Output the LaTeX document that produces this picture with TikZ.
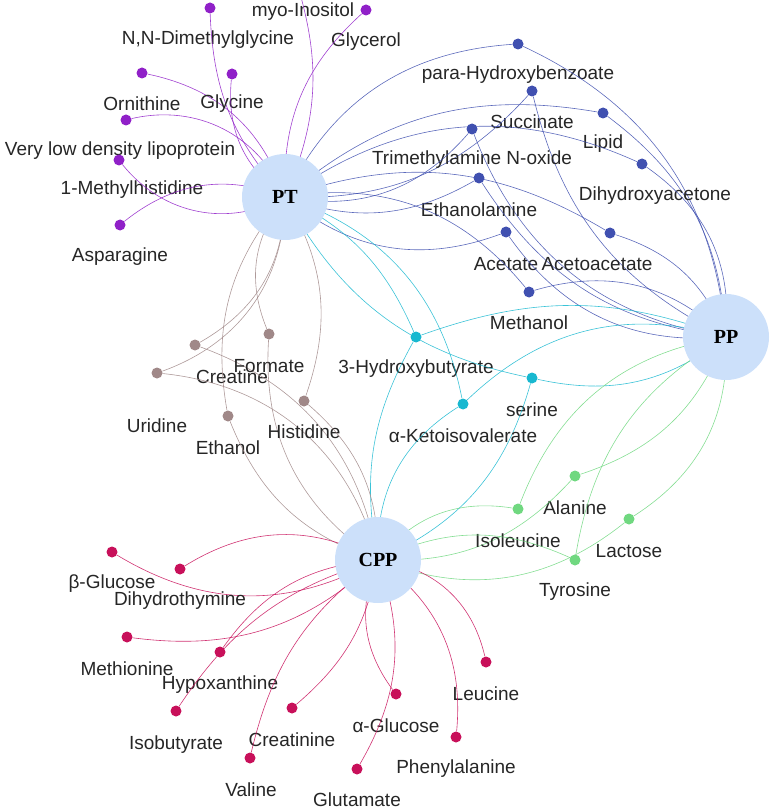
\documentclass[tikz,border=0pt]{standalone}
\usepackage{fontspec}
\setmainfont{Liberation Sans}
\newfontfamily\hubfont{Liberation Serif}
\definecolor{cpur}{HTML}{9020C8}
\definecolor{cblu}{HTML}{4050B0}
\definecolor{ccya}{HTML}{18B8D0}
\definecolor{cbro}{HTML}{A08888}
\definecolor{cgre}{HTML}{70D880}
\definecolor{cred}{HTML}{C8105A}
\definecolor{hubc}{HTML}{CCE0FA}
\tikzset{
 hub/.style={circle,fill=hubc,minimum size=86pt,inner sep=0pt,font=\hubfont\bfseries\fontsize{20}{22}\selectfont},
 dot/.style={circle,fill=#1,minimum size=11pt,inner sep=0pt},
 lab/.style={font=\fontsize{19}{21}\selectfont,text=black!85,inner sep=0pt},
 edge/.style={#1,line width=0.6pt,opacity=0.85}
}
\begin{document}
\begin{tikzpicture}[x=1pt,y=-1pt]
\useasboundingbox (0,0) rectangle (770,810);
\coordinate (PT) at (285,197);
\coordinate (PP) at (726,337);
\coordinate (CPP) at (378,560);
% purple
\foreach \n/\x/\y/\lx/\ly/\t/\b in {
 p1/210/8/208/40/{N,N-Dimethylglycine}/20,
 p0/296/-20/303/12/{myo-Inositol}/-20,
 p2/366/10/366/42/{Glycerol}/25,
 p3/142/73/142/104/{Ornithine}/-30,
 p4/232/74/232/104/{Glycine}/30,
 p5/126/120/120/151/{Very low density lipoprotein}/-40,
 p6/119/160/132/190/{1-Methylhistidine}/40,
 p7/120/225/120/257/{Asparagine}/-30}{
 \node[dot=cpur] (\n) at (\x,\y) {};
 \node[lab] (l\n) at (\lx,\ly) {\t};
 \draw[edge=cpur] (PT) to[bend left=\b] (\n);
}
% blue
\foreach \n/\x/\y/\lx/\ly/\t/\b in {
 b1/518/44/518/75/{para-Hydroxybenzoate}/30,
 b2/532/91/532/122/{Succinate}/-25,
 b3/603/113/603/144/{Lipid}/25,
 b4/472/129/472/160/{Trimethylamine N-oxide}/-30,
 b5/642/164/655/196/{Dihydroxyacetone}/30,
 b6/479/178/479/210/{Ethanolamine}/-25,
 b7/610/233/597/264/{Acetoacetate}/25,
 b8/506/232/506/264/{Acetate}/-30,
 b9/529/292/529/323/{Methanol}/30}{
 \node[dot=cblu] (\n) at (\x,\y) {};
 \node[lab] (l\n) at (\lx,\ly) {\t};
 \draw[edge=cblu] (PT) to[bend left=\b] (\n);
 \draw[edge=cblu] (PP) to[bend right=\b] (\n);
}
% cyan
\foreach \n/\x/\y/\lx/\ly/\t/\b in {
 c1/416/337/416/369/{3-Hydroxybutyrate}/20,
 c2/532/378/532/410/{serine}/-25,
 c3/463/404/463/436/{α-Ketoisovalerate}/30}{
 \node[dot=ccya] (\n) at (\x,\y) {};
 \node[lab] (l\n) at (\lx,\ly) {\t};
 \draw[edge=ccya] (PT) to[bend left=\b] (\n);
 \draw[edge=ccya] (PP) to[bend right=\b] (\n);
 \draw[edge=ccya] (CPP) to[bend left=\b] (\n);
}
% brown
\foreach \n/\x/\y/\lx/\ly/\t/\b in {
 r1/195/345/232/377/{Creatine}/30,
 r2/269/334/269/366/{Formate}/-30,
 r3/157/373/157/426/{Uridine}/35,
 r4/228/416/228/448/{Ethanol}/-25,
 r5/304/401/304/432/{Histidine}/25}{
 \node[dot=cbro] (\n) at (\x,\y) {};
 \node[lab] (l\n) at (\lx,\ly) {\t};
 \draw[edge=cbro] (PT) to[bend left=\b] (\n);
 \draw[edge=cbro] (CPP) to[bend right=\b] (\n);
}
% green
\foreach \n/\x/\y/\lx/\ly/\t/\b in {
 g1/575/476/575/508/{Alanine}/25,
 g2/518/509/518/541/{Isoleucine}/-30,
 g3/629/519/629/551/{Lactose}/30,
 g4/575/560/575/592/{Tyrosine}/-25}{
 \node[dot=cgre] (\n) at (\x,\y) {};
 \node[lab] (l\n) at (\lx,\ly) {\t};
 \draw[edge=cgre] (PP) to[bend left=\b] (\n);
 \draw[edge=cgre] (CPP) to[bend right=\b] (\n);
}
% red
\foreach \n/\x/\y/\lx/\ly/\t/\b in {
 d1/112/552/112/584/{β-Glucose}/30,
 d2/180/569/180/601/{Dihydrothymine}/-30,
 d3/127/637/127/669/{Methionine}/25,
 d4/220/652/220/685/{Hypoxanthine}/-25,
 d5/486/662/486/694/{Leucine}/35,
 d6/176/711/176/745/{Isobutyrate}/-20,
 d7/292/708/292/740/{Creatinine}/20,
 d8/396/694/396/726/{α-Glucose}/-30,
 d9/456/737/456/769/{Phenylalanine}/30,
 d10/250/758/251/790/{Valine}/-20,
 d11/357/769/357/800/{Glutamate}/25}{
 \node[dot=cred] (\n) at (\x,\y) {};
 \node[lab] (l\n) at (\lx,\ly) {\t};
 \draw[edge=cred] (CPP) to[bend left=\b] (\n);
}
\node[hub] (nPT) at (PT) {PT};
\node[hub] (nPP) at (PP) {PP};
\node[hub] (nCPP) at (CPP) {CPP};
\end{tikzpicture}
\end{document}
